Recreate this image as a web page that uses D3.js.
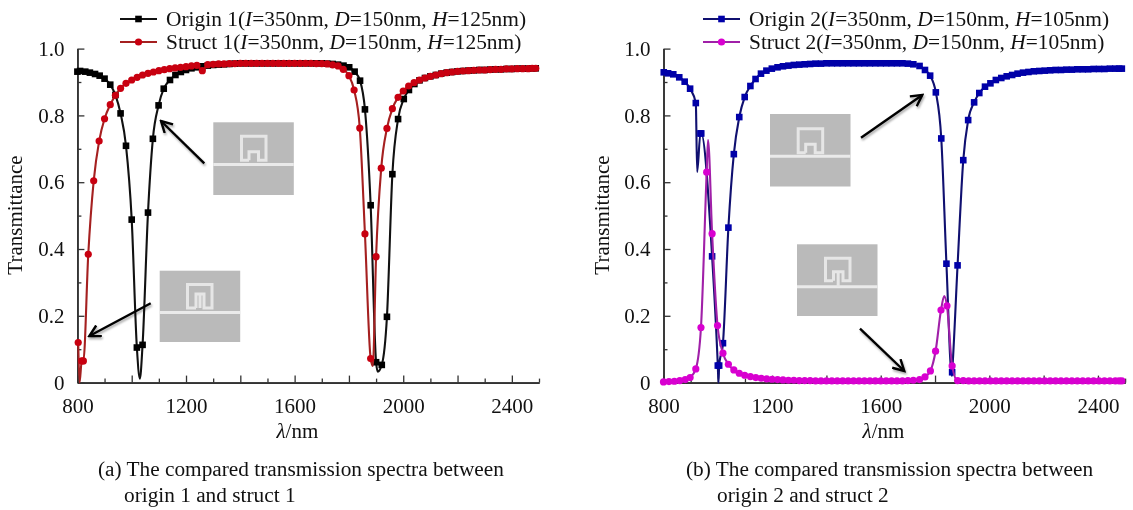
<!DOCTYPE html>
<html><head><meta charset="utf-8">
<style>html,body{margin:0;padding:0;background:#fff}svg{display:block;filter:blur(0.45px)}text{font-family:"Liberation Serif",serif;fill:#111}.arrow{filter:drop-shadow(1px 2px 1.2px rgba(0,0,0,.35))}</style>
<script src="https://cdn.jsdelivr.net/npm/d3@7/dist/d3.min.js"></script></head><body><div id="c"></div>
<script>
const origin1Wl=[800,810,829,846,865,882,900,921,940,959,979,1000,1019,1040,1060,1078,1099,1118,1141,1161,1181,1200,1220,1240,1260,1280,1300,1320,1340,1360,1380,1400,1420,1440,1460,1480,1500,1520,1540,1560,1580,1600,1620,1640,1660,1680,1700,1720,1740,1760,1780,1801,1821,1841,1859,1880,1900,1921,1940,1960,1981,2002,2021,2041,2060,2080,2100,2120,2140,2160,2180,2200,2220,2240,2260,2280,2300,2320,2340,2360,2380,2400,2420,2440,2460,2475,2488];
const origin1T=[.931,.933,.931,.928,.924,.919,.910,.892,.861,.806,.709,.488,.105,.113,.509,.73,.83,.88,.906,.921,.93,.936,.941,.944,.947,.949,.951,.952,.953,.954,.955,.956,.956,.956,.956,.956,.956,.956,.956,.956,.956,.956,.956,.956,.956,.956,.956,.955,.954,.952,.949,.944,.931,.904,.818,.531,.061,.053,.197,.624,.789,.849,.876,.894,.905,.912,.917,.921,.925,.928,.93,.932,.933,.934,.935,.936,.936,.937,.938,.938,.939,.939,.94,.94,.94,.941,.941];
const origin1DipWl=[1030,1906],origin1DipT=[.012,.033];
const struct1Wl=[803,816,822,840,860,880,900,921,940,959,979,1000,1020,1040,1060,1080,1100,1120,1140,1160,1180,1200,1220,1240,1260,1280,1300,1320,1340,1360,1380,1400,1420,1440,1460,1480,1500,1520,1540,1560,1580,1600,1620,1640,1660,1680,1700,1720,1740,1760,1779,1800,1819,1840,1859,1880,1900,1919,1940,1960,1981,2000,2020,2040,2060,2080,2100,2120,2140,2160,2180,2200,2220,2240,2260,2280,2300,2320,2340,2360,2380,2400,2420,2440,2460,2475,2488];
const struct1T=[.12,.065,.065,.384,.604,.723,.79,.832,.86,.881,.896,.906,.914,.921,.926,.93,.934,.937,.94,.942,.944,.946,.948,.95,.934,.952,.953,.954,.954,.955,.955,.956,.956,.956,.956,.956,.956,.956,.956,.956,.956,.956,.956,.956,.956,.955,.955,.954,.951,.948,.938,.919,.876,.762,.445,.072,.377,.642,.761,.82,.854,.873,.888,.898,.906,.912,.917,.921,.925,.928,.93,.932,.933,.934,.935,.936,.936,.937,.938,.938,.939,.939,.94,.94,.94,.941,.941];
const struct1DipWl=[808,1888],struct1DipT=[0,.05];
const origin2Wl=[801,817,836,858,878,898,919,936,939,979,1000,1005,1019,1039,1059,1079,1099,1120,1139,1159,1179,1199,1220,1240,1260,1280,1300,1320,1340,1360,1380,1400,1420,1440,1460,1480,1500,1520,1540,1560,1580,1600,1620,1640,1660,1680,1700,1720,1743,1763,1782,1803,1823,1842,1863,1883,1904,1922,1944,1963,1984,2004,2024,2044,2064,2084,2104,2124,2144,2164,2184,2204,2224,2244,2264,2284,2304,2324,2344,2364,2384,2404,2424,2444,2464,2478,2488];
const origin2T=[.929,.926,.923,.914,.901,.88,.837,.746,.746,.378,.051,.051,.118,.464,.684,.795,.855,.888,.909,.925,.934,.94,.944,.947,.949,.951,.952,.953,.954,.955,.955,.956,.956,.956,.956,.956,.956,.956,.956,.956,.956,.956,.956,.956,.956,.956,.955,.953,.948,.936,.919,.869,.731,.356,.031,.351,.666,.786,.839,.867,.886,.896,.906,.912,.917,.921,.925,.928,.93,.932,.933,.934,.935,.936,.936,.937,.937,.938,.938,.938,.939,.939,.939,.94,.94,.94,.94];
const origin2DipWl=[924,1002.5,1862],origin2DipT=[.631,0,.02];
const struct2Wl=[800,820,840,860,880,898,919,938,959,979,999,1019,1039,1059,1079,1099,1120,1140,1160,1180,1200,1220,1240,1260,1280,1300,1320,1340,1360,1380,1400,1420,1440,1460,1480,1500,1520,1540,1560,1580,1600,1620,1640,1660,1680,1700,1720,1743,1763,1783,1802,1822,1844,1863,1883,1904,1924,1944,1964,1984,2004,2024,2044,2064,2084,2104,2124,2144,2164,2184,2204,2224,2244,2264,2284,2304,2324,2344,2364,2384,2404,2424,2444,2464,2478,2488];
const struct2T=[.002,.003,.004,.006,.009,.015,.041,.165,.63,.446,.171,.088,.055,.038,.028,.022,.018,.015,.013,.011,.01,.009,.008,.007,.007,.006,.006,.006,.005,.005,.005,.005,.005,.005,.005,.005,.005,.005,.005,.005,.005,.005,.005,.005,.005,.006,.007,.009,.017,.035,.094,.217,.23,.05,.006,.006,.005,.005,.005,.005,.005,.005,.005,.005,.005,.005,.005,.005,.005,.005,.005,.005,.005,.005,.005,.005,.005,.005,.005,.005,.005,.005,.005,.005,.005,.005];
const struct2DipWl=[964,1834],struct2DipT=[.726,.259];
const xMajor=[800,1000,1200,1400,1600,1800,2000,2200,2400];
const xMinor=[900,1100,1300,1500,1700,1900,2100,2300,2500];
const xLabels=[800,1200,1600,2000,2400];
const yMajor=[0,.2,.4,.6,.8,1];
const yMinor=[.1,.3,.5,.7,.9];
const legendA=["Origin 1","Struct 1"],legendB=["Origin 2","Struct 2"];
const paramsA=["125nm"],paramsB=["105nm"];

const svg=d3.select("#c").append("svg").attr("width",1133).attr("height",510);
const defs=svg.append("defs");
defs.append("marker").attr("id","ah").attr("viewBox","-12 -7 14 14").attr("refX",0).attr("refY",0)
 .attr("markerWidth",14).attr("markerHeight",14).attr("markerUnits","userSpaceOnUse").attr("orient","auto")
 .append("path").attr("d","M-11,-6 L0,0 L-11,6").attr("fill","none").attr("stroke","#000").attr("stroke-width",2.4);

function merge(w,t,dw,dt){
 return w.map((v,i)=>[v,t[i]]).concat(dw.map((v,i)=>[v,dt[i]])).sort((a,b)=>a[0]-b[0]);
}
function panel(left,series,legendX,legendNames,param,cap,capX){
 const x=d3.scaleLinear().domain([800,2500]).range([left,left+461.6]);
 const y=d3.scaleLinear().domain([0,1]).range([382.6,48.6]);
 const g=svg.append("g");
 const ax=g.append("g").attr("transform","translate(0,382.6)");
 ax.call(d3.axisBottom(x).tickValues(xMajor).tickSizeInner(-7).tickSizeOuter(0).tickPadding(15).tickFormat(d=>xLabels.includes(d)?d:""));
 const ax2=g.append("g").attr("transform","translate(0,382.6)");
 ax2.call(d3.axisBottom(x).tickValues(xMinor).tickSizeInner(-4).tickSizeOuter(0).tickFormat(""));
 const ay=g.append("g").attr("transform",`translate(${left},0)`);
 ay.call(d3.axisLeft(y).tickValues(yMajor).tickSizeInner(-7).tickSizeOuter(0).tickPadding(13).tickFormat(d=>d===0?"0":d3.format(".1f")(d)));
 const ay2=g.append("g").attr("transform",`translate(${left},0)`);
 ay2.call(d3.axisLeft(y).tickValues(yMinor).tickSizeInner(-4).tickSizeOuter(0).tickFormat(""));
 g.selectAll(".domain").attr("stroke","#333").attr("stroke-width",1.6);
 g.selectAll(".tick line").attr("stroke","#333").attr("stroke-width",1.3);
 g.selectAll(".tick text").attr("font-size",21).attr("font-family",'"Liberation Serif",serif').attr("fill","#111");
 g.append("text").attr("transform",`translate(${left-55},215) rotate(-90)`).attr("text-anchor","middle").attr("font-size",21).text("Transmittance");
 const xt=g.append("text").attr("x",left+220).attr("y",438).attr("text-anchor","middle").attr("font-size",21);
 xt.append("tspan").attr("font-style","italic").text("λ");xt.append("tspan").text("/nm");
 const line=d3.line().x(d=>x(d[0])).y(d=>y(d[1])).curve(d3.curveMonotoneX);
 series.forEach(s=>{
  g.append("path").datum(merge(s.w,s.t,s.dw,s.dt)).attr("d",line).attr("fill","none").attr("stroke",s.line).attr("stroke-width",2.1);
  const pts=s.w.map((v,i)=>[v,s.t[i]]);
  if(s.shape==="sq") g.selectAll(null).data(pts).join("rect").attr("x",d=>x(d[0])-3.3).attr("y",d=>y(d[1])-3.3).attr("width",6.6).attr("height",6.6).attr("fill",s.mark);
  else g.selectAll(null).data(pts).join("circle").attr("cx",d=>x(d[0])).attr("cy",d=>y(d[1])).attr("r",3.6).attr("fill",s.mark);
 });
 series.forEach((s,i)=>{
  const ly=19+i*23;
  g.append("line").attr("x1",legendX).attr("x2",legendX+37).attr("y1",ly).attr("y2",ly).attr("stroke",s.line).attr("stroke-width",2);
  if(s.shape==="sq") g.append("rect").attr("x",legendX+15.2).attr("y",ly-3.3).attr("width",6.6).attr("height",6.6).attr("fill",s.mark);
  else g.append("circle").attr("cx",legendX+18.5).attr("cy",ly).attr("r",3.6).attr("fill",s.mark);
  const t=g.append("text").attr("x",legendX+46).attr("y",ly+7).attr("font-size",21.4);
  [[legendNames[i]+"(",0],["I",1],["=350nm, ",0],["D",1],["=150nm, ",0],["H",1],["="+param+")",0]].forEach(p=>{
   t.append("tspan").attr("font-style",p[1]?"italic":"normal").text(p[0]);
  });
 });
 cap.forEach((c,i)=>g.append("text").attr("x",capX[i]).attr("y",476+i*26).attr("font-size",21.3).text(c));
}
panel(77.4,[
 {w:origin1Wl,t:origin1T,dw:origin1DipWl,dt:origin1DipT,line:"#111",mark:"#000",shape:"sq"},
 {w:struct1Wl,t:struct1T,dw:struct1DipWl,dt:struct1DipT,line:"#a52020",mark:"#c80010",shape:"c"}
],120,legendA,paramsA[0],["(a) The compared transmission spectra between","origin 1 and struct 1"],[98,124]);
panel(663.5,[
 {w:origin2Wl,t:origin2T,dw:origin2DipWl,dt:origin2DipT,line:"#101070",mark:"#0000a8",shape:"sq"},
 {w:struct2Wl,t:struct2T,dw:struct2DipWl,dt:struct2DipT,line:"#a020a8",mark:"#d800d0",shape:"c"}
],703,legendB,paramsB[0],["(b) The compared transmission spectra between","origin 2 and struct 2"],[686,717]);

function inset(x0,y0,y1,lineY,rx,ry,kind){
 const g=svg.append("g");
 g.append("rect").attr("x",x0).attr("y",y0).attr("width",80.5).attr("height",y1-y0).attr("fill","#bababa");
 g.append("line").attr("x1",x0).attr("x2",x0+80.5).attr("y1",lineY).attr("y2",lineY).attr("stroke","#eaeaea").attr("stroke-width",3);
 const d=kind==="small"?"M9,25.5H1.5V1.5H26V25.5H18.5V17H9V25.5":kind==="tall"?"M10,25H1.5V1.5H26V25H18V11H10V25M14,11V25":"M9,24H1.5V1.5H26V24H19V15H9.5V24M14.2,15V"+(lineY-ry);
 g.append("path").attr("transform",`translate(${rx},${ry})`).attr("d",d).attr("fill","none").attr("stroke","#e6e6e6").attr("stroke-width",3);
}
inset(213.3,122.3,195,164.5,240,134.7,"small");
inset(159.7,270.7,342,312.4,186,283,"tall");
inset(770,114,186.5,156.3,796.7,127.3,"small");
inset(797,244.3,316,286.7,824,256.7,"stem");
[[204.3,163.3,161,121],[150.7,303.3,89.3,336],[861,137.7,922.3,95],[860,328.7,904.3,371]].forEach(a=>{
 svg.append("line").attr("class","arrow").attr("x1",a[0]).attr("y1",a[1]).attr("x2",a[2]).attr("y2",a[3]).attr("stroke","#000").attr("stroke-width",2.4).attr("marker-end","url(#ah)");
});
</script></body></html>
